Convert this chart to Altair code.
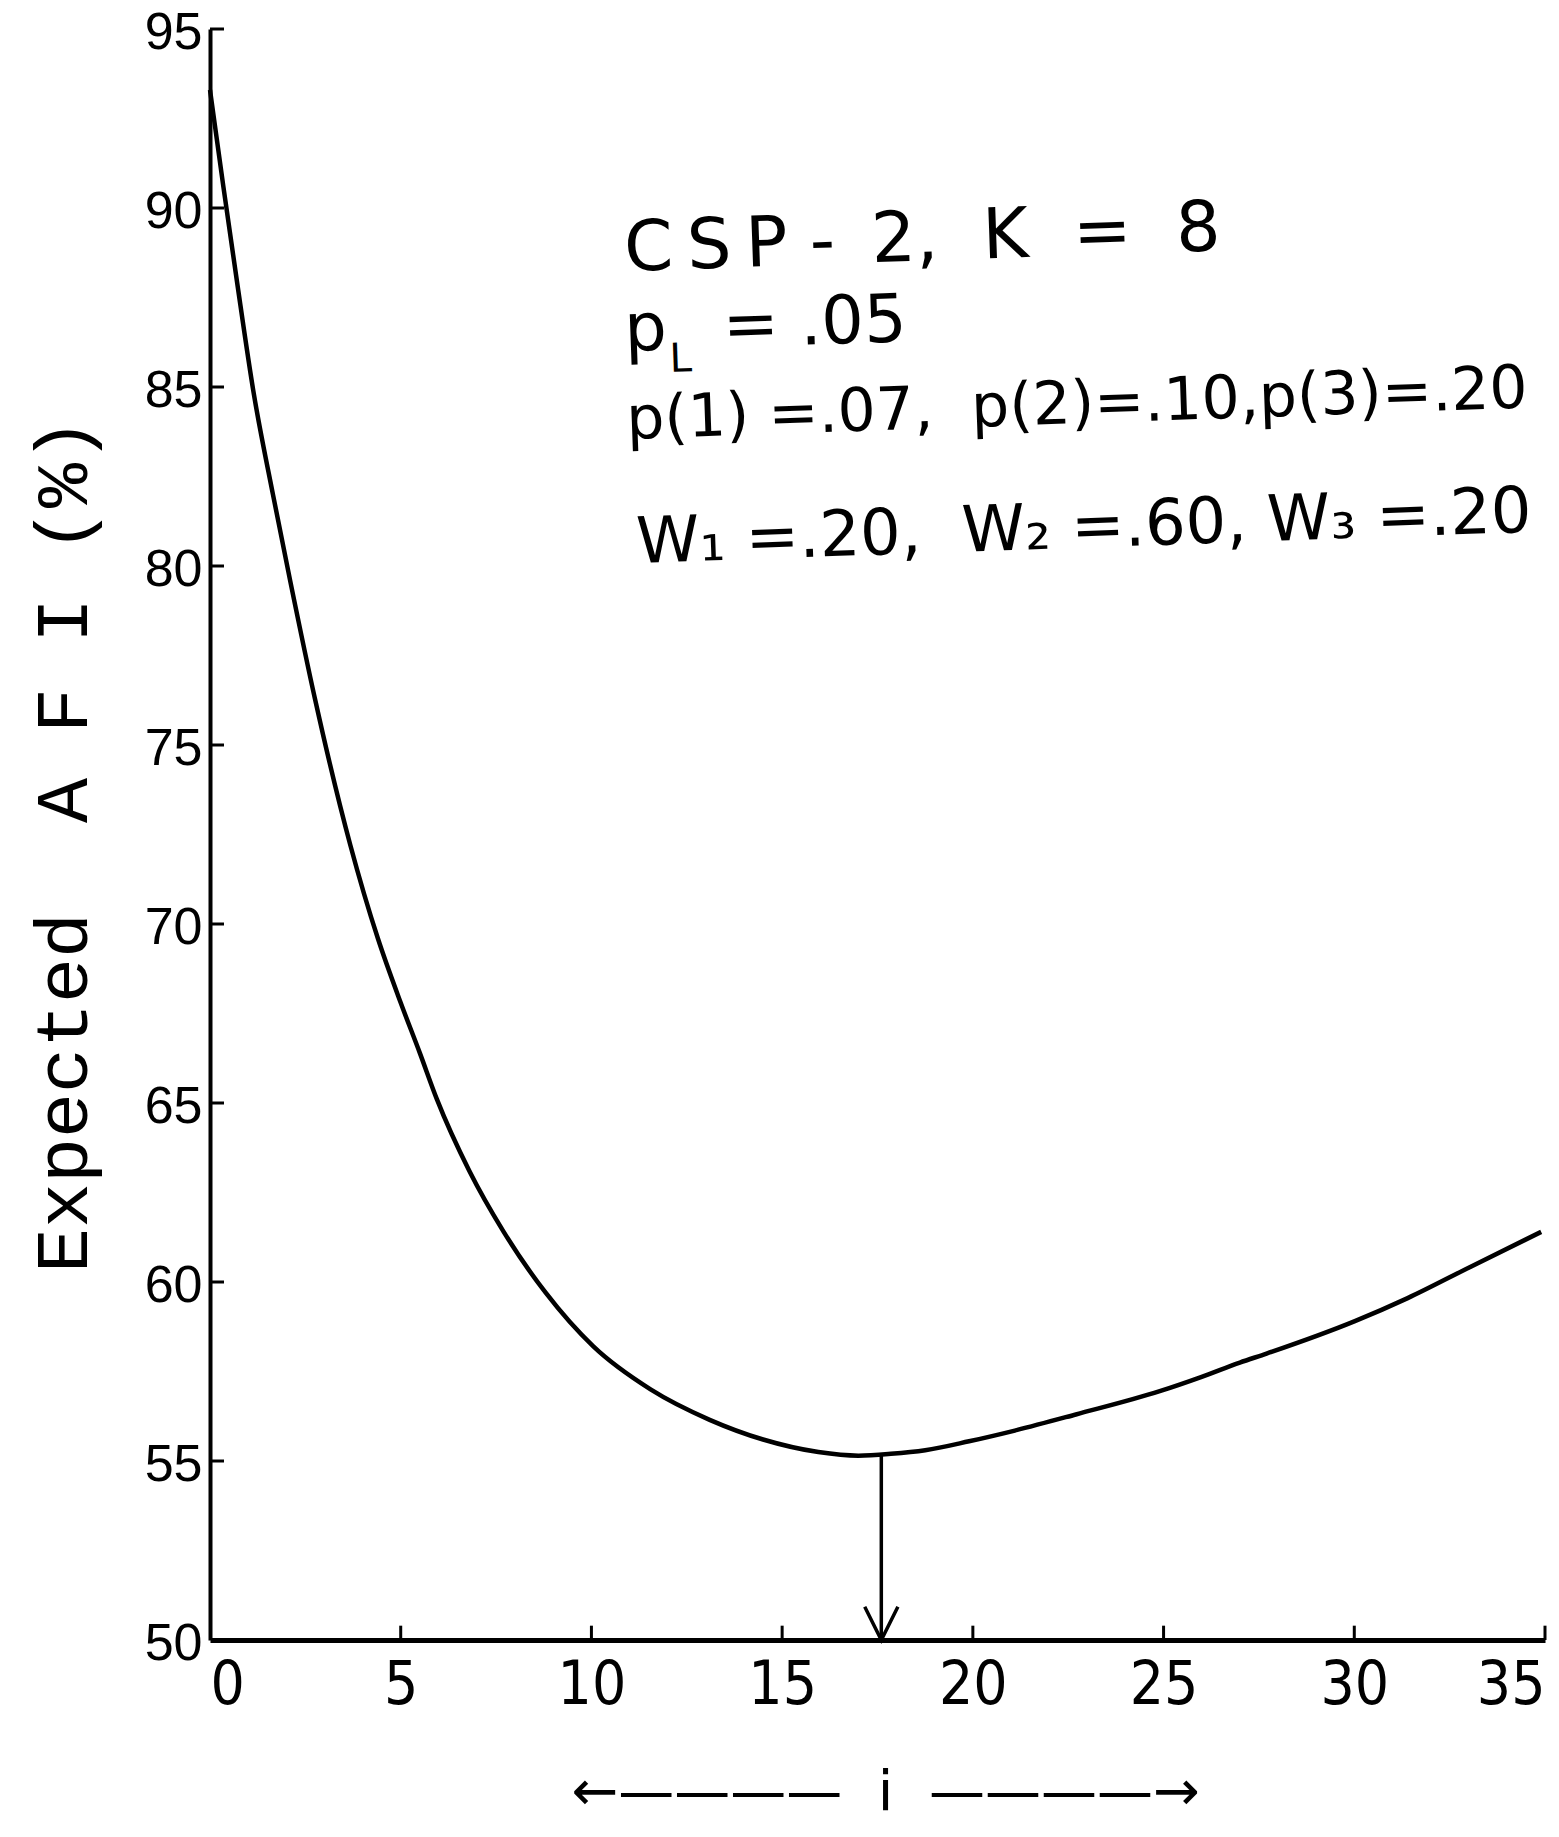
import altair as alt
import pandas as pd

# ---- data ----
i_vals = [0, 0.35, 0.7, 1.15, 1.65, 2.1, 2.75, 3.68, 4.4, 5.0, 5.5, 5.95, 6.8, 7.7,
          8.8, 10.05, 11.55, 13.1, 14.5, 15.95, 17.0, 17.85, 18.75, 19.9, 21.1,
          22.7, 24.9, 26.0, 27.0, 27.7, 30.0, 31.4, 33.0, 34.9]
afi_vals = [93.3, 90.6, 88.0, 84.8, 82.0, 79.6, 76.3, 72.2, 69.6, 67.8, 66.4, 65.1,
            63.1, 61.4, 59.7, 58.2, 57.0, 56.15, 55.6, 55.25, 55.15, 55.2, 55.3,
            55.55, 55.85, 56.3, 56.95, 57.35, 57.75, 58.0, 58.9, 59.55, 60.4, 61.4]
x_ticks = [0, 5, 10, 15, 20, 25, 30, 35]
y_ticks = [50, 55, 60, 65, 70, 75, 80, 85, 90, 95]
opt_i = [17.6]
opt_afi = [55.2]
axis_floor = [50]
NB = "\u00a0"
TH = "\u2009"
notes = [
    "C" + TH + "S" + TH + "P" + NB + "-" + NB + TH + "2," + NB * 2 + "K" + NB * 2 + "=" + NB * 2 + "8",
    "p" + NB * 2 + TH + "=" + NB + ".05",
    "p(1)" + NB + "=.07," + NB * 2 + "p(2)=.10,p(3)=.20",
    "W\u2081" + NB + "=.20," + NB * 2 + "W\u2082" + NB + "=.60," + NB + "W\u2083" + NB + "=.20",
]
sub_L = "L"
x_title = "\u2190\u2014\u2014\u2014\u2014" + NB * 2 + "i" + NB * 2 + "\u2014\u2014\u2014\u2014\u2192"
y_title = "Expected" + NB * 2 + "A" + NB + "F" + NB + "I" + NB + "(%)"

W, H = 1335, 1611
TICK_LEN_Y = 0.4   # inward tick length on x axis (data units)

xs = alt.Scale(domain=[0, 35], nice=False, zero=False)
ys = alt.Scale(domain=[50, 95], nice=False, zero=False)

x_enc = alt.X("i:Q", scale=xs, axis=alt.Axis(
    values=x_ticks, title=x_title, titleFont="DejaVu Sans", titleFontSize=56,
    titleFontWeight="normal", titleColor="black", titleY=152, titleX=675,
    titleBaseline="middle", titleAlign="center",
    labelFont="DejaVu Sans Condensed, Liberation Sans Narrow, Liberation Sans",
    labelFontSize=60, labelColor="black", labelPadding=16, labelFlush=True,
    labelOverlap=False, ticks=False, tickSize=0, grid=False,
    domainColor="black", domainWidth=5))
y_enc = alt.Y("afi:Q", scale=ys, axis=alt.Axis(
    values=y_ticks, title=y_title, titleFont="Liberation Mono", titleFontSize=75,
    titleFontWeight="normal", titleColor="black", titleAngle=270, titleX=-124,
    titleY=816, titleAlign="center", titleBaseline="alphabetic",
    labelFont="Liberation Sans", labelFontSize=52, labelColor="black",
    labelPadding=8, labelOffset=3, labelFlush=False, labelOverlap=False,
    ticks=False, tickSize=0, grid=False, domainColor="black", domainWidth=4))

curve_df = pd.DataFrame({"i": i_vals, "afi": afi_vals})
curve = alt.Chart(curve_df).mark_line(
    color="black", strokeWidth=4.5, interpolate="monotone").encode(x=x_enc, y=y_enc)

ytick_df = pd.DataFrame({"afi": y_ticks[1:]})
yticks = alt.Chart(ytick_df).mark_rule(color="black", strokeWidth=3).encode(
    y=y_enc, x=alt.value(0), x2=alt.value(14))

xtick_df = pd.DataFrame({"i": x_ticks[1:], "afi": [y_ticks[0]] * 7})
xtick_df["afi_top"] = xtick_df["afi"] + TICK_LEN_Y
xticks = alt.Chart(xtick_df).mark_rule(color="black", strokeWidth=3).encode(
    x=x_enc, y=y_enc, y2="afi_top:Q")

arrow_df = pd.DataFrame({"i": opt_i, "afi": opt_afi, "afi_end": axis_floor})
arrow = alt.Chart(arrow_df).mark_rule(color="black", strokeWidth=3.5).encode(
    x=x_enc, y=y_enc, y2="afi_end:Q")
head_df = pd.DataFrame({"i": opt_i, "afi": axis_floor})
head = alt.Chart(head_df).mark_point(
    shape="M -1 -2 L 0 0 L 1 -2", filled=False, stroke="black", strokeWidth=3.5,
    size=1100, opacity=1).encode(x=x_enc, y=y_enc)

note_pos = [(415, 242, 70), (415, 322, 67), (417, 410, 60), (427, 534, 64)]
note_layers = []
for txt, (px, py, fs) in zip(notes, note_pos):
    note_layers.append(
        alt.Chart(pd.DataFrame({"t": [txt]})).mark_text(
            font="DejaVu Sans", fontSize=fs, color="black", align="left",
            baseline="alphabetic", angle=358).encode(
            text="t:N", x=alt.value(px), y=alt.value(py)))
note_layers.append(
    alt.Chart(pd.DataFrame({"t": [sub_L]})).mark_text(
        font="DejaVu Sans", fontSize=40, color="black", align="left",
        baseline="alphabetic", angle=358).encode(
        text="t:N", x=alt.value(460), y=alt.value(343)))

chart = alt.layer(curve, yticks, xticks, arrow, head, *note_layers).properties(
    width=W, height=H,
    autosize=alt.AutoSizeParams(type="none"),
    padding={"left": 210, "top": 29, "right": 14, "bottom": 197},
    background="white",
).configure_view(stroke=None)

chart.save("out.html", embed_options={"renderer": "svg", "actions": False})
